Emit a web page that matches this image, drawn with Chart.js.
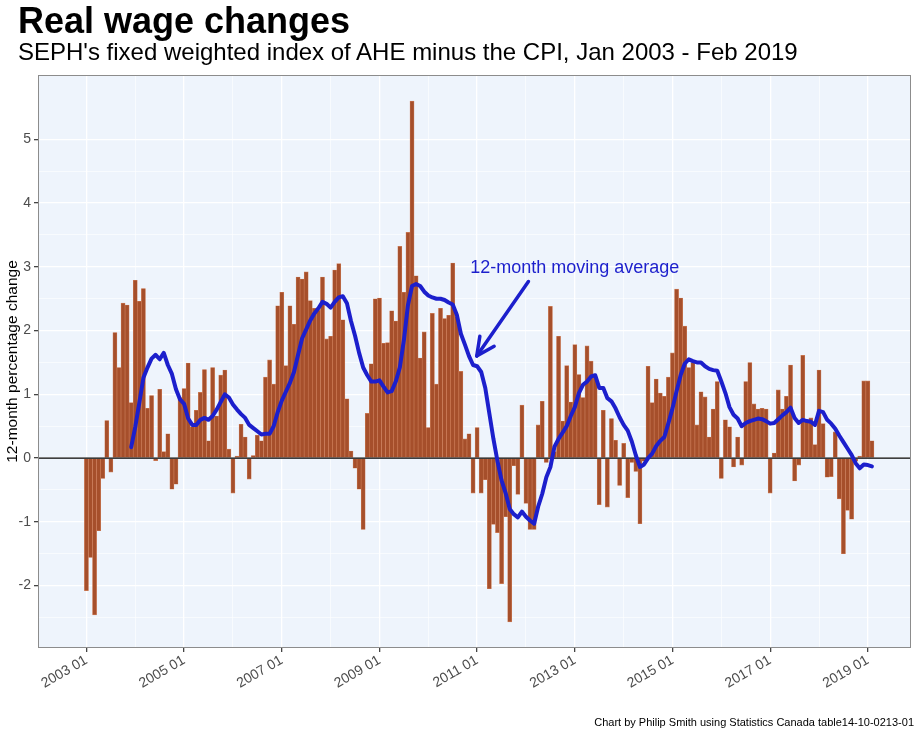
<!DOCTYPE html>
<html><head><meta charset="utf-8">
<script src="https://cdn.jsdelivr.net/npm/chart.js@4.4.1/dist/chart.umd.min.js"></script>
<style>
html,body{margin:0;padding:0;background:#fff;}
#wrap{position:relative;width:921px;height:737px;overflow:hidden;font-family:"Liberation Sans",Arial,Helvetica,sans-serif;}
#title{position:absolute;left:18px;top:3px;font-size:36px;line-height:1;font-weight:bold;color:#000;white-space:nowrap;}
#subtitle{position:absolute;left:18px;top:40px;font-size:24px;line-height:1;color:#000;white-space:nowrap;}
#caption{position:absolute;right:7px;top:717px;font-size:11px;line-height:1;color:#000;white-space:nowrap;}
canvas{position:absolute;left:0;top:0;}
</style></head>
<body><div id="wrap">
<canvas id="c" width="921" height="737"></canvas>
<div id="title">Real wage changes</div>
<div id="subtitle">SEPH's fixed weighted index of AHE minus the CPI, Jan 2003 - Feb 2019</div>
<div id="caption">Chart by Philip Smith using Statistics Canada table14-10-0213-01</div>
</div>
<script>
// Monthly 12-month % change (AHE minus CPI), Jan 2003 - Feb 2019, one array per year
const wage2003 = [-2.08, -1.56, -2.46, -1.14, -0.32, 0.59, -0.22, 1.97, 1.42, 2.43, 2.40, 0.87];
const wage2004 = [2.79, 2.46, 2.66, 0.78, 0.98, -0.04, 1.08, 0.10, 0.38, -0.49, -0.41, 0.95];
const wage2005 = [1.09, 1.49, 0.49, 0.75, 1.03, 1.39, 0.27, 1.42, 0.66, 1.30, 1.38, 0.14];
const wage2006 = [-0.55, 0.03, 0.53, 0.33, -0.33, 0.04, 0.36, 0.27, 1.27, 1.54, 1.16, 2.39];
const wage2007 = [2.60, 1.45, 2.39, 2.10, 2.84, 2.81, 2.92, 2.47, 2.35, 2.32, 2.84, 1.87];
const wage2008 = [1.91, 2.95, 3.05, 2.17, 0.93, 0.11, -0.16, -0.49, -1.12, 0.70, 1.48, 2.50];
const wage2009 = [2.51, 1.80, 1.81, 2.31, 2.15, 3.32, 2.60, 3.54, 5.60, 2.86, 1.57, 1.98];
const wage2010 = [0.48, 2.27, 1.16, 2.35, 2.19, 2.24, 3.06, 2.22, 1.36, 0.30, 0.38, -0.55];
const wage2011 = [0.48, -0.55, -0.34, -2.05, -1.04, -1.17, -1.97, -0.92, -2.57, -0.12, -0.57, 0.83];
const wage2012 = [-0.71, -1.12, -1.12, 0.52, 0.89, -0.07, 2.38, 0.10, 1.91, 0.58, 1.45, 0.88];
const wage2013 = [1.78, 1.31, 0.95, 1.76, 1.52, 1.28, -0.73, 0.75, -0.77, 0.62, 0.28, -0.43];
const wage2014 = [0.23, -0.62, -0.07, -0.21, -1.03, -0.05, 1.44, 0.87, 1.24, 1.02, 0.97, 1.27];
const wage2015 = [1.65, 2.65, 2.51, 2.07, 1.42, 1.50, 0.52, 1.04, 0.96, 0.33, 0.77, 1.20];
const wage2016 = [-0.32, 0.60, 0.49, -0.14, 0.33, -0.11, 1.20, 1.50, 0.85, 0.77, 0.78, 0.77];
const wage2017 = [-0.55, 0.08, 1.07, 0.77, 0.97, 1.46, -0.36, -0.11, 1.61, 0.57, 0.63, 0.21];
const wage2018 = [1.38, 0.54, -0.30, -0.29, 0.41, -0.64, -1.50, -0.82, -0.96, -0.05, 0.03, 1.21];
const wage2019 = [1.21, 0.27];

// 12-month moving average (first value is Dec 2003)
const ma2003 = [0.17];
const ma2004 = [0.49, 0.87, 1.26, 1.42, 1.56, 1.62, 1.55, 1.65, 1.46, 1.32, 1.08, 0.92];
const ma2005 = [0.85, 0.62, 0.52, 0.52, 0.60, 0.63, 0.60, 0.66, 0.76, 0.88, 1.00, 0.95];
const ma2006 = [0.84, 0.76, 0.69, 0.63, 0.52, 0.47, 0.42, 0.37, 0.38, 0.38, 0.50, 0.72];
const ma2007 = [0.90, 1.04, 1.18, 1.35, 1.62, 1.88, 2.02, 2.16, 2.27, 2.35, 2.45, 2.42];
const ma2008 = [2.36, 2.45, 2.52, 2.54, 2.43, 2.15, 1.92, 1.65, 1.42, 1.30, 1.20, 1.20];
const ma2009 = [1.22, 1.12, 1.03, 1.05, 1.20, 1.42, 1.85, 2.40, 2.70, 2.73, 2.70, 2.61];
const ma2010 = [2.55, 2.52, 2.50, 2.50, 2.48, 2.44, 2.41, 2.25, 1.95, 1.78, 1.60, 1.46];
const ma2011 = [1.44, 1.35, 1.10, 0.70, 0.30, -0.05, -0.35, -0.55, -0.80, -0.88, -0.93, -0.84];
const ma2012 = [-0.92, -0.98, -1.03, -0.76, -0.56, -0.30, -0.14, 0.18, 0.30, 0.40, 0.50, 0.66];
const ma2013 = [0.80, 1.02, 1.15, 1.20, 1.28, 1.30, 1.10, 1.10, 0.94, 0.89, 0.78, 0.64];
const ma2014 = [0.52, 0.43, 0.26, 0.04, -0.14, -0.10, 0.00, 0.07, 0.19, 0.27, 0.33, 0.55];
const ma2015 = [0.78, 1.05, 1.30, 1.48, 1.55, 1.52, 1.50, 1.50, 1.44, 1.40, 1.38, 1.37];
const ma2016 = [1.20, 1.02, 0.80, 0.68, 0.62, 0.50, 0.55, 0.58, 0.60, 0.62, 0.61, 0.58];
const ma2017 = [0.54, 0.55, 0.61, 0.67, 0.72, 0.79, 0.63, 0.55, 0.60, 0.58, 0.57, 0.52];
const ma2018 = [0.74, 0.72, 0.60, 0.54, 0.46, 0.35, 0.25, 0.15, 0.05, -0.08, -0.16, -0.10];
const ma2019 = [-0.11, -0.13];

const xTickLabels = ["2003 01", "2005 01", "2007 01", "2009 01", "2011 01", "2013 01", "2015 01", "2017 01", "2019 01"];
const yTickLabels = ["-2", "-1", "0", "1", "2", "3", "4", "5"];

const wageValues = [].concat(wage2003, wage2004, wage2005, wage2006, wage2007, wage2008, wage2009, wage2010,
  wage2011, wage2012, wage2013, wage2014, wage2015, wage2016, wage2017, wage2018, wage2019);
const maValues = [].concat(ma2003, ma2004, ma2005, ma2006, ma2007, ma2008, ma2009, ma2010,
  ma2011, ma2012, ma2013, ma2014, ma2015, ma2016, ma2017, ma2018, ma2019);
const maStart = wageValues.length - maValues.length; // month index of first MA point

const barPoints = wageValues.map((v, i) => ({x: i, y: v}));
const maPoints = maValues.map((v, i) => ({x: i + maStart, y: v}));

const annotation = {text: "12-month moving average", textAt: [94.3, 2.98], arrowFrom: [108.6, 2.77], arrowTo: [95.9, 1.60]};
const blue = '#1c1fcc';

const panelPlugin = {
  id: 'panel',
  beforeDraw(chart) {
    const {ctx, chartArea: a} = chart;
    ctx.save();
    ctx.fillStyle = '#EEF4FC';
    ctx.fillRect(a.left, a.top, a.right - a.left, a.bottom - a.top);
    ctx.restore();
  },
  afterDatasetDraw(chart, args) {
    if (args.index !== 0) return;
    const {ctx, chartArea: a, scales} = chart;
    const y0 = scales.y.getPixelForValue(0);
    ctx.save();
    ctx.strokeStyle = '#000';
    ctx.lineWidth = 1.3;
    ctx.beginPath();
    ctx.moveTo(a.left, y0);
    ctx.lineTo(a.right, y0);
    ctx.stroke();
    ctx.restore();
  },
  afterDraw(chart) {
    const {ctx, chartArea: a, scales} = chart;
    ctx.save();
    ctx.strokeStyle = '#8c8c8c';
    ctx.lineWidth = 1;
    ctx.strokeRect(Math.round(a.left) + 0.5, Math.round(a.top) + 0.5, Math.round(a.right - a.left) - 1, Math.round(a.bottom - a.top) - 1);
    // annotation
    const xs = scales.x, ys = scales.y;
    ctx.fillStyle = blue;
    ctx.font = '18px "Liberation Sans", Arial, sans-serif';
    ctx.textAlign = 'left';
    ctx.textBaseline = 'middle';
    ctx.fillText(annotation.text, xs.getPixelForValue(annotation.textAt[0]), ys.getPixelForValue(annotation.textAt[1]));
    const x1 = xs.getPixelForValue(annotation.arrowFrom[0]), y1 = ys.getPixelForValue(annotation.arrowFrom[1]);
    const x2 = xs.getPixelForValue(annotation.arrowTo[0]), y2 = ys.getPixelForValue(annotation.arrowTo[1]);
    ctx.strokeStyle = blue;
    ctx.lineWidth = 3.5;
    ctx.lineCap = 'round';
    ctx.lineJoin = 'round';
    ctx.beginPath();
    ctx.moveTo(x1, y1); ctx.lineTo(x2, y2); ctx.stroke();
    const ang = Math.atan2(y1 - y2, x1 - x2), L = 20, w = 0.45;
    ctx.beginPath();
    ctx.moveTo(x2 + L * Math.cos(ang - w), y2 + L * Math.sin(ang - w));
    ctx.lineTo(x2, y2);
    ctx.lineTo(x2 + L * Math.cos(ang + w), y2 + L * Math.sin(ang + w));
    ctx.stroke();
    ctx.restore();
  }
};

Chart.defaults.font.family = '"Liberation Sans", Arial, sans-serif';

const isInt = v => Math.abs(v - Math.round(v)) < 1e-6;

new Chart(document.getElementById('c'), {
  data: {
    datasets: [
      {type: 'bar', data: barPoints, backgroundColor: '#A64F2B', borderColor: '#CF7F5A', borderWidth: 0.6,
       barPercentage: 1, categoryPercentage: 1, order: 2},
      {type: 'line', data: maPoints, borderColor: blue, borderWidth: 4, pointRadius: 0, tension: 0,
       borderJoinStyle: 'round', borderCapStyle: 'round', order: 1}
    ]
  },
  options: {
    responsive: false,
    animation: false,
    devicePixelRatio: 1,
    layout: {padding: {top: 75, right: 10, bottom: 9, left: 0}},
    plugins: {legend: {display: false}, tooltip: {enabled: false}},
    scales: {
      x: {
        type: 'linear', min: -11.9, max: 202.6, offset: false,
        afterFit: s => { s.height = 80; s.paddingLeft = 0; s.paddingRight = 0; },
        afterBuildTicks: s => {
          const t = [];
          for (let k = 0; k < xTickLabels.length * 2 - 1; k++) t.push({value: k * 12});
          s.ticks = t;
        },
        border: {display: false},
        grid: {
          offset: false,
          color: '#ffffff',
          lineWidth: c => (c.tick && c.tick.value % 24 === 0) ? 1.3 : 0.6,
          tickColor: c => (c.tick && c.tick.value % 24 === 0) ? '#444' : 'rgba(0,0,0,0)',
          tickLength: 4
        },
        ticks: {
          autoSkip: false, maxRotation: 30, minRotation: 30, color: '#4D4D4D', font: {size: 14}, padding: 0,
          callback: v => (v % 24 === 0) ? xTickLabels[v / 24] : ''
        }
      },
      y: {
        min: -2.98, max: 6.01,
        afterFit: s => { s.width = 38; },
        afterBuildTicks: s => {
          const t = [];
          for (let k = 0; k < yTickLabels.length * 2; k++) t.push({value: -2.5 + k * 0.5});
          s.ticks = t;
        },
        border: {display: false},
        grid: {
          color: '#ffffff',
          lineWidth: c => (c.tick && isInt(c.tick.value)) ? 1.3 : 0.6,
          tickColor: c => (c.tick && isInt(c.tick.value)) ? '#444' : 'rgba(0,0,0,0)',
          tickLength: 4
        },
        ticks: {
          color: '#4D4D4D', font: {size: 14}, padding: 3,
          callback: v => isInt(v) ? yTickLabels[Math.round(v) + 2] : ''
        },
        title: {display: true, text: '12-month percentage change', color: '#000', font: {size: 15.5}, padding: {top: 3, bottom: 0}}
      }
    }
  },
  plugins: [panelPlugin]
});
</script>
</body></html>
